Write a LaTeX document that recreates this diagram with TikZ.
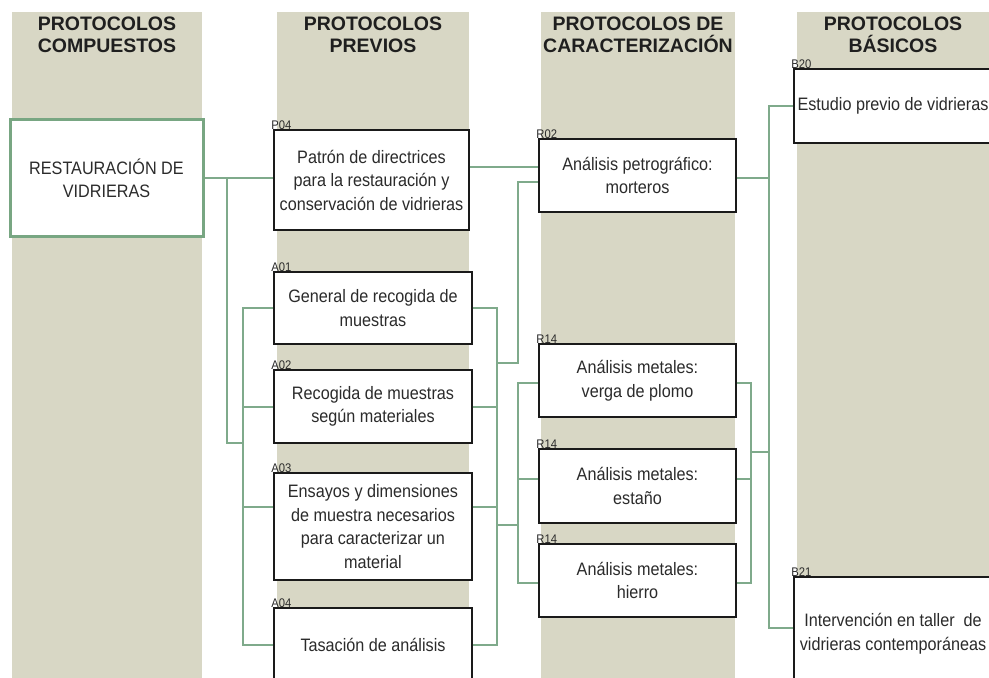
\documentclass[tikz,border=0pt]{standalone}
\usepackage{fontspec}
\setmainfont{Liberation Sans}
\newfontfamily\bodyf{Liberation Sans}[FakeStretch=0.9]
\newfontfamily\tagf{Liberation Sans}[FakeStretch=0.9]
\definecolor{tanbg}{HTML}{D8D7C5}
\definecolor{linkgreen}{HTML}{7FAA8B}
\definecolor{restgreen}{HTML}{78A682}
\definecolor{boxline}{HTML}{1A1A1A}
\definecolor{txt}{HTML}{2B2B2B}
\tikzset{
  colbg/.style={fill=tanbg},
  header/.style={anchor=north, inner sep=0pt, align=center, text=black!88,
    font=\bfseries\fontsize{19.5}{22}\selectfont},
  link/.style={draw=linkgreen, line width=2pt},
  protbox/.style={draw=boxline, fill=white, line width=1.6pt, inner sep=0pt,
    align=center, text=txt, font=\bodyf\fontsize{18}{23.5}\selectfont},
  restbox/.style={draw=restgreen, fill=white, line width=3pt, inner sep=0pt,
    align=center, text=txt, font=\bodyf\fontsize{18}{23}\selectfont},
  tag/.style={anchor=base west, inner sep=0pt, xshift=-2pt, text=txt,
    font=\tagf\fontsize{12.5}{12.5}\selectfont}
}
\begin{document}
\begin{tikzpicture}[x=1pt,y=-1pt]
\useasboundingbox (0,0) rectangle (989,678);
\begin{scope}
\clip (0,0) rectangle (989,678);

% column bands
\fill[colbg] (12,12) rectangle (202,690);
\fill[colbg] (277,12) rectangle (469,690);
\fill[colbg] (541,12) rectangle (735,690);
\fill[colbg] (797,12) rectangle (995,690);

% column headers
\node[header] (h1) at (107,17) {PROTOCOLOS\\COMPUESTOS};
\node[header] (h2) at (373,17) {PROTOCOLOS\\PREVIOS};
\node[header] (h3) at (638,17) {PROTOCOLOS DE\\CARACTERIZACIÓN};
\node[header] (h4) at (893,17) {PROTOCOLOS\\BÁSICOS};

% protocol boxes
\node[restbox, minimum width=193pt, minimum height=117pt] (rest) at (106.5,178) {RESTAURACIÓN DE\\VIDRIERAS};
\node[protbox, minimum width=195pt, minimum height=100pt] (p04) at (371.5,180) {Patrón de directrices\\para la restauración y\\conservación de vidrieras};
\node[protbox, minimum width=198pt, minimum height=72pt] (a01) at (373,308) {General de recogida de\\muestras};
\node[protbox, minimum width=198pt, minimum height=73pt] (a02) at (373,406.5) {Recogida de muestras\\según materiales};
\node[protbox, minimum width=198pt, minimum height=107pt] (a03) at (373,526.5) {Ensayos y dimensiones\\de muestra necesarios\\para caracterizar un\\material};
\node[protbox, minimum width=198pt, minimum height=74pt] (a04) at (373,645) {Tasación de análisis};
\node[protbox, minimum width=197pt, minimum height=73pt] (b02) at (637.5,175.5) {Análisis petrográfico:\\morteros};
\node[protbox, minimum width=197pt, minimum height=73pt] (r14a) at (637.5,380.5) {Análisis metales:\\verga de plomo};
\node[protbox, minimum width=197pt, minimum height=74pt] (r14b) at (637.5,486) {Análisis metales:\\estaño};
\node[protbox, minimum width=197pt, minimum height=73pt] (r14c) at (637.5,580.5) {Análisis metales:\\hierro};
\node[protbox, minimum width=198pt, minimum height=74pt] (b20) at (893,106) {Estudio previo de vidrieras};
\node[protbox, minimum width=198pt, minimum height=113pt] (b21) at (893,633.5) {Intervención en taller\ \ de\\vidrieras contemporáneas};

% code tags
\node[tag] (tp04) at (p04.north west) {P04};
\node[tag] (ta01) at (a01.north west) {A01};
\node[tag] (ta02) at (a02.north west) {A02};
\node[tag] (ta03) at (a03.north west) {A03};
\node[tag] (ta04) at (a04.north west) {A04};
\node[tag] (tb02) at (b02.north west) {R02};
\node[tag] (tr14a) at (r14a.north west) {R14};
\node[tag] (tr14b) at (r14b.north west) {R14};
\node[tag] (tr14c) at (r14c.north west) {R14};
\node[tag] (tb20) at (b20.north west) {B20};
\node[tag] (tb21) at (b21.north west) {B21};

% junction points
\coordinate (t1) at (227,178);
\coordinate (t2) at (243,443);
\coordinate (rA) at (497,363);
\coordinate (rB) at (497,525);
\coordinate (m1) at (518,363);
\coordinate (m2) at (518,525);
\coordinate (s) at (751,452);
\coordinate (q) at (769,452);
\coordinate (a03W) at ([yshift=19.5pt]a03.west);
\coordinate (a03E) at ([yshift=19.5pt]a03.east);
\coordinate (p04E) at ([yshift=13pt]p04.east);
\coordinate (b02W) at ([yshift=-6.5pt]b02.west);
\coordinate (b02E) at ([yshift=-2.5pt]b02.east);
\coordinate (r14aW) at ([yshift=-2.5pt]r14a.west);
\coordinate (r14bW) at ([yshift=7pt]r14b.west);
\coordinate (r14cW) at ([yshift=-2.5pt]r14c.west);
\coordinate (r14aE) at ([yshift=-2.5pt]r14a.east);
\coordinate (r14bE) at ([yshift=7pt]r14b.east);
\coordinate (r14cE) at ([yshift=-2.5pt]r14c.east);
\coordinate (b21W) at ([yshift=5.5pt]b21.west);

% composite protocol to previous protocols
\draw[link] (rest.east) -- (rest.east -| p04.west);
\draw[link] (t1) |- (t2);
\draw[link] (a01.west) -| (t2);
\draw[link] (a04.west) -| (t2);
\draw[link] (a02.west) -- (a02.west -| t2);
\draw[link] (a03W) -- (a03W -| t2);

% previous protocols to characterisation
\draw[link] (a01.east) -| (rA);
\draw[link] (a04.east) -| (rB);
\draw[link] (rA) -- (rB);
\draw[link] (a02.east) -- (a02.east -| rA);
\draw[link] (a03E) -- (a03E -| rA);
\draw[link] (rA) -- (m1) |- (b02W);
\draw[link] (rB) -- (m2);
\draw[link] (r14aW) -| (m2);
\draw[link] (r14cW) -| (m2);
\draw[link] (r14bW) -- (r14bW -| m2);
\draw[link] (p04E) -- (p04E -| b02.west);

% characterisation to basic protocols
\draw[link] (r14aE) -| (s);
\draw[link] (r14cE) -| (s);
\draw[link] (r14bE) -- (r14bE -| s);
\draw[link] (s) -- (q);
\draw[link] (b20.west) -| (q);
\draw[link] (b21W) -| (q);
\draw[link] (b02E) -- (b02E -| q);
\end{scope}
\end{tikzpicture}
\end{document}
